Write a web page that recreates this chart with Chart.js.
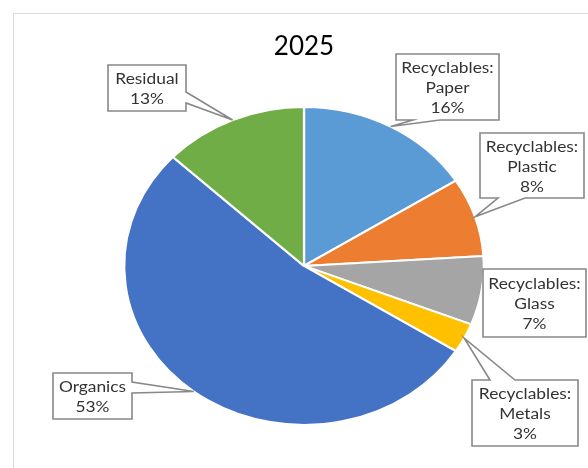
<!DOCTYPE html>
<html>
<head>
<meta charset="utf-8">
<script src="https://cdn.jsdelivr.net/npm/chart.js@4"></script>
<style>
  html, body { margin: 0; padding: 0; background: #fff; }
  #wrap { width: 588px; height: 468px; position: relative; }
</style>
</head>
<body>
<div id="wrap"><canvas id="wasteChart"></canvas></div>
<script>
const chartTitle = '2025';
const categories = ['Recyclables: Paper', 'Recyclables: Plastic', 'Recyclables: Glass', 'Recyclables: Metals', 'Organics', 'Residual'];
const shares = [16, 8, 7, 3, 53, 13];
const sliceColors = ['#5B9BD5', '#ED7D31', '#A5A5A5', '#FFC000', '#4472C4', '#70AD47'];

// label boxes, one per slice; the pointer leaves from `side`, between the two `base` coordinates
const calloutBoxes = [
    { x: 396, y: 54, w: 103, h: 66, side: 'bottom', base: [413, 440] },
    { x: 480, y: 133, w: 104, h: 65, side: 'bottom', base: [498, 525] },
    { x: 483, y: 269, w: 103, h: 68, side: null },
    { x: 472, y: 380, w: 106, h: 66, side: 'top', base: [490, 515] },
    { x: 53, y: 373, w: 79, h: 46, side: 'right', base: [382, 393] },
    { x: 108, y: 65, w: 78, h: 46, side: 'right', base: [92, 103] }
];

const pieStretch = 1.131;   // pie is drawn as an oval, wider than tall
const textStretch = 1.12;
const labelFont = '15.5px Lato';
const labelColor = '#333333';

document.addEventListener('DOMContentLoaded', function () {
    const ctx = document.getElementById('wasteChart').getContext('2d');
    const total = shares.reduce((a, b) => a + b, 0);

    function labelLines(i) {
        const parts = categories[i].split(': ');
        const lines = parts.length > 1 ? [parts[0] + ':', parts[1]] : [parts[0]];
        lines.push(Math.round(shares[i] / total * 100) + '%');
        return lines;
    }

    function wideText(c, text, x, y) {
        c.save();
        c.translate(x, y);
        c.scale(textStretch, 1);
        c.fillText(text, 0, 0);
        c.restore();
    }

    function calloutPath(c, box, tip) {
        const l = box.x, t = box.y, r = box.x + box.w, b = box.y + box.h;
        const pts = [[l, t]];
        if (box.side === 'top') pts.push([box.base[0], t], [tip.x, tip.y], [box.base[1], t]);
        pts.push([r, t]);
        if (box.side === 'right') pts.push([r, box.base[0]], [tip.x, tip.y], [r, box.base[1]]);
        pts.push([r, b]);
        if (box.side === 'bottom') pts.push([box.base[1], b], [tip.x, tip.y], [box.base[0], b]);
        pts.push([l, b]);
        if (box.side === 'left') pts.push([l, box.base[1]], [tip.x, tip.y], [l, box.base[0]]);
        c.beginPath();
        pts.forEach((p, k) => k ? c.lineTo(p[0], p[1]) : c.moveTo(p[0], p[1]));
        c.closePath();
    }

    const ovalPie = {
        id: 'ovalPie',
        beforeDraw(chart) {
            const c = chart.ctx;
            c.save();
            c.strokeStyle = '#D9D9D9';
            c.lineWidth = 1;
            c.strokeRect(13.5, 13.5, 700, 700);
            c.restore();
        },
        beforeDatasetsDraw(chart) {
            const arc = chart.getDatasetMeta(0).data[0];
            const c = chart.ctx;
            c.save();
            c.translate(arc.x, arc.y);
            c.scale(pieStretch, 1);
            c.translate(-arc.x, -arc.y);
        },
        afterDatasetsDraw(chart) {
            chart.ctx.restore();
        }
    };

    const callouts = {
        id: 'callouts',
        afterDraw(chart) {
            const c = chart.ctx;
            chart.getDatasetMeta(0).data.forEach((arc, i) => {
                const box = calloutBoxes[i];
                const mid = (arc.startAngle + arc.endAngle) / 2;
                const tip = {
                    x: arc.x + pieStretch * arc.outerRadius * Math.cos(mid),
                    y: arc.y + arc.outerRadius * Math.sin(mid)
                };
                c.save();
                calloutPath(c, box, tip);
                c.fillStyle = '#fff';
                c.fill();
                c.strokeStyle = '#888888';
                c.lineWidth = 1.6;
                c.lineJoin = 'miter';
                c.stroke();

                const lines = labelLines(i);
                const lineH = 20;
                const cx = box.x + box.w / 2;
                const y0 = box.y + box.h / 2 + 1 - (lines.length - 1) * lineH / 2;
                c.font = labelFont;
                c.fillStyle = labelColor;
                c.textAlign = 'center';
                c.textBaseline = 'middle';
                lines.forEach((line, k) => wideText(c, line, cx, y0 + k * lineH));
                c.restore();
            });
        }
    };

    new Chart(ctx, {
        type: 'pie',
        data: {
            labels: categories,
            datasets: [{
                data: shares,
                backgroundColor: sliceColors,
                borderColor: '#ffffff',
                borderWidth: 2
            }]
        },
        options: {
            responsive: true,
            maintainAspectRatio: false,
            animation: false,
            radius: 159,
            layout: {
                padding: { left: 134, right: 114, top: 0, bottom: 8.7 }
            },
            plugins: {
                legend: { display: false },
                tooltip: { enabled: false },
                title: {
                    display: true,
                    text: chartTitle,
                    color: '#000',
                    font: { family: 'Lato', size: 26, weight: 'normal', lineHeight: 1.2 },
                    padding: { top: 31.3, bottom: 10 }
                }
            }
        },
        plugins: [ovalPie, callouts]
    });
});
</script>
</body>
</html>
